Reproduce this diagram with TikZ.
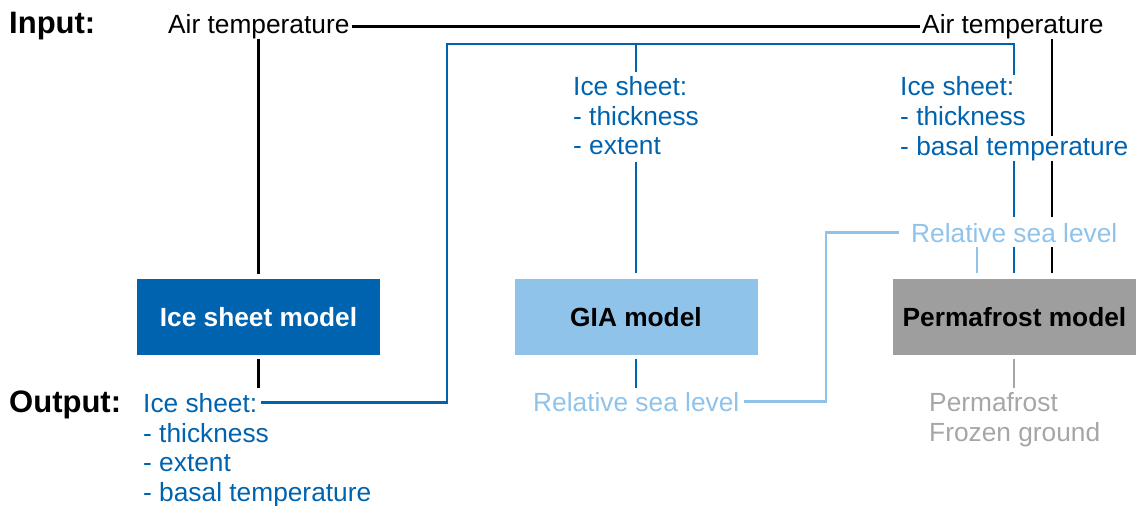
\documentclass[tikz,border=0pt]{standalone}
\usepackage{fontspec}
\setmainfont{Liberation Sans}
\definecolor{dkblue}{RGB}{0,99,175}
\definecolor{ltblue}{RGB}{143,195,234}
\definecolor{boxgray}{RGB}{158,158,158}
\definecolor{txtgray}{RGB}{166,166,166}
\begin{document}
\begin{tikzpicture}[x=1pt,y=-1pt,
  txt/.style={font=\fontsize{26.3}{30}\selectfont, inner xsep=4pt, inner ysep=0pt, anchor=base west},
  lbl/.style={font=\fontsize{31}{35}\selectfont\bfseries, inner sep=0pt, anchor=base west},
  model/.style={minimum width=243pt, minimum height=76pt, inner sep=0pt, font=\fontsize{26.3}{30}\selectfont\bfseries},
  ln/.style={line width=2.8pt},
]
\useasboundingbox (0,0) rectangle (1136,506);

% labels
\node[lbl] (inp) at (9,33) {Input:};
\node[lbl] (outp) at (9,412) {Output:};
\node[txt] (airL) at (164,33) {Air temperature};
\node[txt] (airR) at (918,33) {Air temperature};

% model boxes
\node[model, fill=dkblue, text=white] (isb) at (258.5,317) {Ice sheet model};
\node[model, fill=ltblue, text=black] (gia) at (636,317) {GIA model};
\node[model, fill=boxgray, text=black] (pfb) at (1014.5,317) {Permafrost model};

% middle input block
\node[txt, text=dkblue] (mIce1) at (569,95) {Ice sheet:};
\node[txt, text=dkblue] (mIce2) at (569,125) {- thickness};
\node[txt, text=dkblue] (mIce3) at (569,154) {- extent};

% right input block
\node[txt, text=dkblue] (rIce1) at (896,95) {Ice sheet:};
\node[txt, text=dkblue] (rIce2) at (896,125) {- thickness};
\node[txt, text=dkblue] (rB3) at (896,155) {- basal temperature};
\node[txt, text=ltblue] (relR) at (907,242) {Relative sea level};

% outputs
\node[txt, text=dkblue] (oIce1) at (139,412) {Ice sheet:};
\node[txt, text=dkblue] (oIce2) at (139,442) {- thickness};
\node[txt, text=dkblue] (oIce3) at (139,471) {- extent};
\node[txt, text=dkblue] (oIce4) at (139,501) {- basal temperature};
\node[txt, text=ltblue] (relM) at (529,411) {Relative sea level};
\node[txt, text=txtgray] (pf1) at (925,411) {Permafrost};
\node[txt, text=txtgray] (pf2) at (925,441) {Frozen ground};

% helper coordinates
\coordinate (bx) at (1052,0);
\coordinate (bz) at (1014,0);
\coordinate (lz) at (977,0);
\coordinate (bl) at (447,0);
\coordinate (lk) at (826,0);
\coordinate (topy) at (0,44);
\coordinate (oy) at (0,388);

% black connectors
\draw[ln] ([xshift=-2pt]airL.east) -- ([xshift=2pt]airR.west);
\draw[ln] (airL.south -| isb.north) -- ([yshift=5pt]isb.north);
\draw[ln] (airR.south -| bx) -- (bx |- rB3.north);
\draw[ln] (bx |- rB3.south) -- ([yshift=6pt]bx |- relR.north);
\draw[ln] ([yshift=-5pt]bx |- relR.south) -- ([yshift=6pt]bx |- pfb.north);
\draw[ln] ([yshift=-4pt]isb.south) -- (isb.south |- oy);

% dark blue connectors
\draw[ln, dkblue] (oIce1.east) -- (oIce1.east -| bl) -- (bl |- topy) -- (bz |- topy) -- ([yshift=1pt]bz |- rIce1.north);
\draw[ln, dkblue] (gia.north |- topy) -- ([yshift=4pt]gia.north |- mIce1.north);
\draw[ln, dkblue] ([yshift=-8pt]gia.north |- mIce3.south) -- ([yshift=6pt]gia.north);
\draw[ln, dkblue] (bz |- rB3.south) -- ([yshift=6pt]bz |- relR.north);
\draw[ln, dkblue] ([yshift=-5pt]bz |- relR.south) -- ([yshift=6pt]bz |- pfb.north);
\draw[ln, dkblue] ([yshift=-4pt]gia.south) -- (gia.south |- oy);

% light blue connectors
\draw[ln, ltblue] (relM.east) -- (relM.east -| lk) -- (lk |- relR.west) -- ([xshift=-8pt]relR.west);
\draw[ln, ltblue] ([yshift=-5pt]lz |- relR.south) -- ([yshift=6pt]lz |- pfb.north);

% gray connector
\draw[ln, txtgray] ([yshift=-4pt]bz |- pfb.south) -- (bz |- oy);
\end{tikzpicture}
\end{document}
